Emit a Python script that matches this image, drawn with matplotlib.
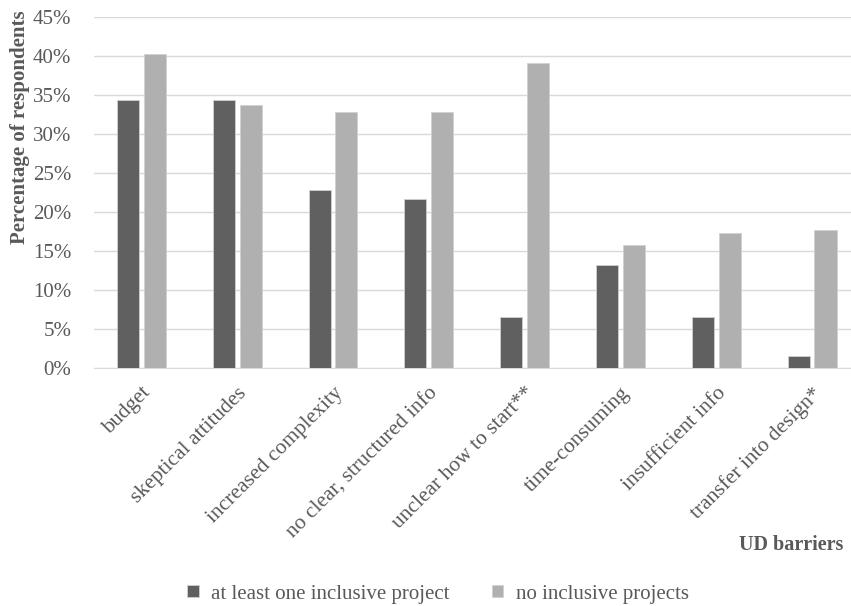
import numpy as np
import matplotlib.pyplot as plt
from matplotlib.ticker import MultipleLocator, PercentFormatter

# data
barriers = ['budget', 'skeptical attitudes', 'increased complexity',
            'no clear, structured info', 'unclear how to start**',
            'time-consuming', 'insufficient info', 'transfer into design*']
at_least_one = [34.4, 34.4, 22.9, 21.7, 6.6, 13.3, 6.6, 1.6]
no_inclusive = [40.3, 33.8, 32.8, 32.8, 39.1, 15.8, 17.4, 17.7]

plt.rcParams['font.family'] = ['Liberation Serif', 'DejaVu Serif']
txt = '#595959'

fig = plt.figure(figsize=(8.51, 6.06), dpi=100)
ax = fig.add_axes([93.5 / 851, 1 - 368.3 / 606, (860 - 93.5) / 851, (368.3 - 17.3) / 606])

x = np.arange(len(barriers))
w = 0.23
ax.bar(x - 0.14, at_least_one, w, color='#606060', edgecolor='#d0d0d0', linewidth=0.6,
       label='at least one inclusive project', zorder=3)
ax.bar(x + 0.14, no_inclusive, w, color='#b0b0b0', edgecolor='#d0d0d0', linewidth=0.6,
       label='no inclusive projects', zorder=3)

ax.set_xlim(-0.5, len(barriers) - 0.5)
ax.set_ylim(0, 45)
ax.yaxis.set_major_locator(MultipleLocator(5))
ax.yaxis.set_major_formatter(PercentFormatter(decimals=0))
ax.grid(axis='y', color='#d9d9d9', linewidth=1, zorder=0)
for s in ['top', 'right', 'left']:
    ax.spines[s].set_visible(False)
ax.spines['bottom'].set_color('#d9d9d9')
ax.tick_params(axis='y', length=0, colors=txt, labelsize=15, pad=16)

ax.set_xticks(x)
ax.set_xticklabels(barriers, rotation=45, ha='right', rotation_mode='anchor')
ax.tick_params(axis='x', length=0, colors=txt, labelsize=15.5, pad=11)

# y label sits above the axis middle, like in the original
fig.text(20 / 851, 1 - 127 / 606, 'Percentage of respondents', fontsize=15, fontweight='bold',
         color=txt, rotation=90, ha='center', va='center')
fig.text(843 / 851, 1 - 545 / 606, 'UD barriers', fontsize=14.5, fontweight='bold',
         color=txt, ha='right', va='center')

fig.legend(loc='center', bbox_to_anchor=(438 / 851, 1 - 594 / 606), ncol=2, frameon=False,
           fontsize=15, handlelength=0.55, handleheight=0.55, columnspacing=2.0,
           handletextpad=0.6, labelcolor=txt)

fig.savefig('out.png', dpi=100)
